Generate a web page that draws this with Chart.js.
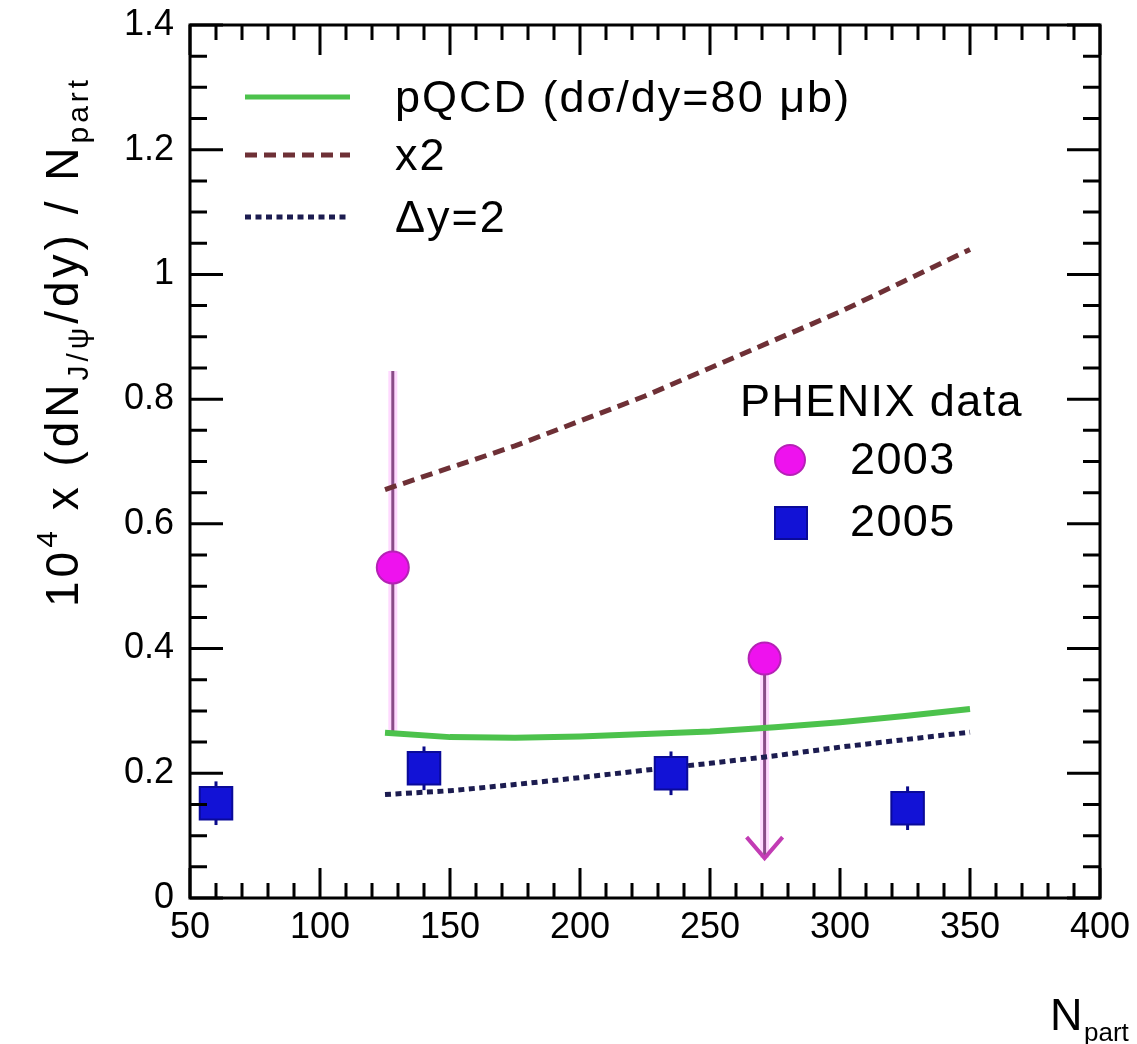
<!DOCTYPE html>
<html>
<head>
<meta charset="utf-8">
<script src="https://cdn.jsdelivr.net/npm/chart.js@4.4.1/dist/chart.umd.min.js"></script>
<style>
  html, body { margin: 0; padding: 0; background: #fff; }
  #wrap { width: 1137px; height: 1044px; position: relative; }
</style>
</head>
<body>
<div id="wrap"><canvas id="chart"></canvas></div>
<script>
// axis ticks
const xTicks = [50, 100, 150, 200, 250, 300, 350, 400];
const yTicks = [0, 0.2, 0.4, 0.6, 0.8, 1, 1.2, 1.4];

// model curves
const modelX = [125, 150, 175, 200, 225, 250, 275, 300, 325, 350];
const pqcd = [0.265, 0.258, 0.257, 0.259, 0.263, 0.267, 0.274, 0.282, 0.292, 0.303];
const pqcdX2 = [0.655, 0.69, 0.725, 0.765, 0.805, 0.85, 0.895, 0.94, 0.99, 1.04];
const deltaY2 = [0.166, 0.172, 0.182, 0.193, 0.205, 0.216, 0.228, 0.242, 0.254, 0.266];

// PHENIX 2003
const x2003 = [128, 271];
const y2003 = [0.53, 0.384];
const y2003Hi = [0.845, 0.384];
const y2003Lo = [0.268, 0.064];
const upperLimit2003 = [false, true];

// PHENIX 2005
const x2005 = [60, 140, 235, 326];
const y2005 = [0.152, 0.208, 0.2, 0.144];
const err2005 = [0.035, 0.035, 0.035, 0.035];

const FONT = '"Liberation Sans", Arial, Helvetica, sans-serif';

const pts = (xs, ys) => xs.map((x, i) => ({ x: x, y: ys[i] }));

const framePlugin = {
  id: 'frame',
  beforeDatasetsDraw(chart) {
    const { ctx, scales: { x, y } } = chart;
    ctx.save();
    // 2003 error bars / limit arrows
    x2003.forEach((xv, i) => {
      const px = x.getPixelForValue(xv);
      const top = y.getPixelForValue(y2003Hi[i]);
      const bot = y.getPixelForValue(y2003Lo[i]);
      ctx.strokeStyle = 'rgba(255, 170, 255, 0.45)';
      ctx.lineWidth = 9;
      ctx.beginPath(); ctx.moveTo(px, top); ctx.lineTo(px, bot); ctx.stroke();
      ctx.strokeStyle = '#8a4c88';
      ctx.lineWidth = 3;
      ctx.beginPath(); ctx.moveTo(px, top); ctx.lineTo(px, bot); ctx.stroke();
      if (upperLimit2003[i]) {
        ctx.strokeStyle = '#c23cb4';
        ctx.lineWidth = 4;
        ctx.beginPath();
        ctx.moveTo(px - 18, bot - 21);
        ctx.lineTo(px, bot);
        ctx.lineTo(px + 18, bot - 21);
        ctx.stroke();
      }
    });
    // 2005 error bars
    x2005.forEach((xv, i) => {
      const px = x.getPixelForValue(xv);
      ctx.strokeStyle = '#0a0a8a';
      ctx.lineWidth = 3;
      ctx.beginPath();
      ctx.moveTo(px, y.getPixelForValue(y2005[i] + err2005[i]));
      ctx.lineTo(px, y.getPixelForValue(y2005[i] - err2005[i]));
      ctx.stroke();
    });
    ctx.restore();
  },
  afterDraw(chart) {
    const { ctx, chartArea: a, scales: { x, y } } = chart;
    ctx.save();
    ctx.strokeStyle = '#000';
    ctx.lineWidth = 3;
    ctx.strokeRect(a.left, a.top, a.right - a.left, a.bottom - a.top);

    // inward ticks, all four sides
    ctx.lineWidth = 3;
    ctx.beginPath();
    for (let v = 50; v <= 400; v += 10) {
      const px = x.getPixelForValue(v);
      const len = v % 50 === 0 ? 30 : 15;
      ctx.moveTo(px, a.bottom); ctx.lineTo(px, a.bottom - len);
      ctx.moveTo(px, a.top); ctx.lineTo(px, a.top + len);
    }
    for (let k = 0; k <= 28; k++) {
      const py = y.getPixelForValue(k * 0.05);
      const len = k % 4 === 0 ? 33 : 17;
      ctx.moveTo(a.left, py); ctx.lineTo(a.left + len, py);
      ctx.moveTo(a.right, py); ctx.lineTo(a.right - len, py);
    }
    ctx.stroke();

    // legend 1 (models)
    const rows = [
      { y: 97, label: 'pQCD (d\u03c3/dy=80 \u03bcb)', color: '#4cc24c', dash: [], w: 5 },
      { y: 155, label: 'x2', color: '#6e3036', dash: [12, 7], w: 5 },
      { y: 217, label: '\u0394y=2', color: '#1c1c50', dash: [6, 4.5], w: 5 }
    ];
    ctx.font = '45px ' + FONT;
    ctx.letterSpacing = '2px';
    ctx.textBaseline = 'middle';
    ctx.fillStyle = '#000';
    rows.forEach(r => {
      ctx.strokeStyle = r.color;
      ctx.lineWidth = r.w;
      ctx.setLineDash(r.dash);
      ctx.beginPath(); ctx.moveTo(245, r.y); ctx.lineTo(350, r.y); ctx.stroke();
      ctx.setLineDash([]);
      ctx.fillText(r.label, 395, r.y + 3);
    });

    // legend 2 (data)
    ctx.letterSpacing = '1.4px';
    ctx.fillText('PHENIX data', 740, 404);
    ctx.fillStyle = '#ee12ee';
    ctx.strokeStyle = '#b522b5';
    ctx.lineWidth = 2;
    ctx.beginPath(); ctx.arc(790, 460, 15, 0, Math.PI * 2); ctx.fill(); ctx.stroke();
    ctx.fillStyle = '#1212d6';
    ctx.strokeStyle = '#0a0a99';
    ctx.fillRect(775, 507, 32, 32); ctx.strokeRect(775, 507, 32, 32);
    ctx.fillStyle = '#000';
    ctx.fillText('2003', 850, 462);
    ctx.fillText('2005', 850, 524);

    // x title
    ctx.letterSpacing = '0px';
    ctx.textBaseline = 'alphabetic';
    ctx.font = '45px ' + FONT;
    ctx.fillText('N', 1050, 1030);
    ctx.font = '26px ' + FONT;
    ctx.fillText('part', 1084, 1041);

    // y title (rotated)
    ctx.translate(78, 607);
    ctx.rotate(-Math.PI / 2);
    ctx.letterSpacing = '4px';
    let cx = 0;
    const piece = (t, size, dy) => {
      ctx.font = size + 'px ' + FONT;
      ctx.fillText(t, cx, dy);
      cx += ctx.measureText(t).width;
    };
    piece('10', 46, 0);
    piece('4', 30, -21);
    piece(' x (dN', 46, 0);
    piece('J/\u03c8', 30, 10);
    piece('/dy) / N', 46, 0);
    piece('part', 30, 10);
    ctx.restore();
  }
};

new Chart(document.getElementById('chart'), {
  type: 'scatter',
  data: {
    datasets: [
      {
        label: '2003',
        data: pts(x2003, y2003),
        pointStyle: 'circle',
        pointRadius: 16,
        backgroundColor: '#ee12ee',
        borderColor: '#b522b5',
        borderWidth: 2,
        order: 0
      },
      {
        label: '2005',
        data: pts(x2005, y2005),
        pointStyle: 'rect',
        pointRadius: 23,
        backgroundColor: '#1212d6',
        borderColor: '#0a0a99',
        borderWidth: 2,
        order: 1
      },
      {
        label: 'pQCD',
        data: pts(modelX, pqcd),
        showLine: true,
        pointRadius: 0,
        borderColor: '#4cc24c',
        borderWidth: 6,
        order: 4
      },
      {
        label: 'x2',
        data: pts(modelX, pqcdX2),
        showLine: true,
        pointRadius: 0,
        borderColor: '#6e3036',
        borderWidth: 5,
        borderDash: [12, 7],
        order: 3
      },
      {
        label: 'dy2',
        data: pts(modelX, deltaY2),
        showLine: true,
        pointRadius: 0,
        borderColor: '#1c1c50',
        borderWidth: 5,
        borderDash: [6, 4.5],
        order: 2
      }
    ]
  },
  options: {
    responsive: true,
    maintainAspectRatio: false,
    animation: false,
    layout: { padding: { top: 23, right: 37, left: 0, bottom: 0 } },
    plugins: { legend: { display: false }, tooltip: { enabled: false } },
    scales: {
      x: {
        type: 'linear',
        min: 50,
        max: 400,
        afterBuildTicks: s => { s.ticks = xTicks.map(v => ({ value: v })); },
        afterFit: s => { s.height = 146; s.paddingLeft = 0; s.paddingRight = 0; },
        grid: { display: false, drawTicks: false },
        border: { display: false },
        ticks: { color: '#000', font: { family: FONT, size: 36 }, padding: 8, maxRotation: 0, autoSkip: false, callback: v => String(v) }
      },
      y: {
        type: 'linear',
        min: 0,
        max: 1.4,
        afterBuildTicks: s => { s.ticks = yTicks.map(v => ({ value: v })); },
        afterFit: s => { s.width = 190; s.paddingTop = 0; s.paddingBottom = 0; },
        grid: { display: false, drawTicks: false },
        border: { display: false },
        ticks: { color: '#000', font: { family: FONT, size: 36 }, padding: 16, autoSkip: false, callback: v => String(v) }
      }
    }
  },
  plugins: [framePlugin]
});
</script>
</body>
</html>
